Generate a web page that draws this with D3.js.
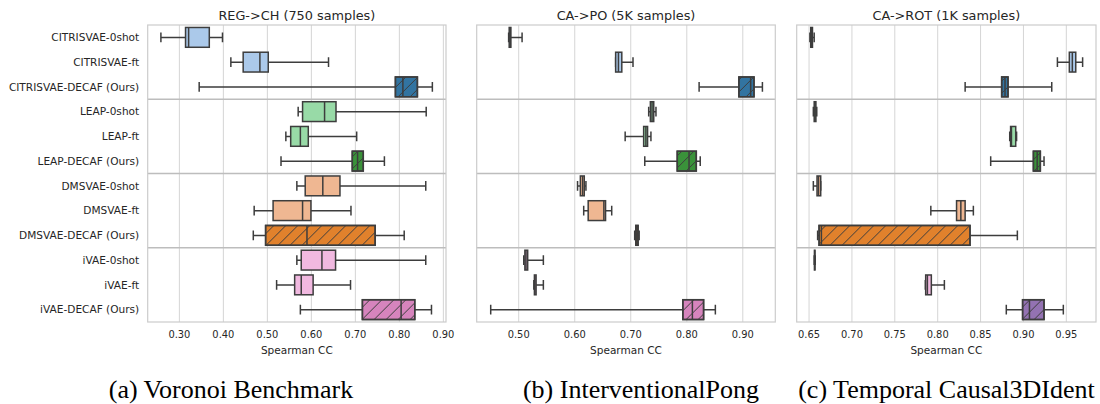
<!DOCTYPE html>
<meta charset="utf-8">
<script src="https://d3js.org/d3.v7.min.js"></script>
<style>
body { margin:0; background:#fff; }
svg { display:block; }
text { font-family:"DejaVu Sans", sans-serif; fill:#262626; }
.grid line { stroke:#d5d5d5; stroke-width:1; }
.frame { fill:none; stroke:#cccccc; stroke-width:1.2; }
.sep { stroke:#bdbdbd; stroke-width:1.5; }
.box { stroke:#3d3d3d; stroke-width:1.5; }
.whisk { stroke:#3d3d3d; stroke-width:1.5; fill:none; }
.caption { font-family:"Liberation Serif", "Times New Roman", serif; font-size:26px; fill:#000; }
</style>
<body></body>
<script>

var methods = ["CITRISVAE-0shot", "CITRISVAE-ft", "CITRISVAE-DECAF (Ours)",
  "LEAP-0shot", "LEAP-ft", "LEAP-DECAF (Ours)",
  "DMSVAE-0shot", "DMSVAE-ft", "DMSVAE-DECAF (Ours)",
  "iVAE-0shot", "iVAE-ft", "iVAE-DECAF (Ours)"];

var panelTitles = ["REG->CH (750 samples)", "CA->PO (5K samples)", "CA->ROT (1K samples)"];
var captions = ["(a) Voronoi Benchmark", "(b) InterventionalPong", "(c) Temporal Causal3DIdent"];

// [lower whisker, q1, median, q3, upper whisker]
var voronoiStats = [
  [0.258, 0.314, 0.321, 0.368, 0.398],
  [0.417, 0.445, 0.483, 0.502, 0.639],
  [0.345, 0.791, 0.808, 0.841, 0.875],
  [0.570, 0.580, 0.630, 0.656, 0.861],
  [0.542, 0.553, 0.575, 0.593, 0.703],
  [0.531, 0.693, 0.705, 0.718, 0.766],
  [0.567, 0.586, 0.626, 0.665, 0.860],
  [0.470, 0.513, 0.580, 0.599, 0.690],
  [0.468, 0.496, 0.590, 0.745, 0.811],
  [0.567, 0.577, 0.624, 0.655, 0.860],
  [0.521, 0.562, 0.577, 0.604, 0.689],
  [0.575, 0.716, 0.804, 0.835, 0.873]
];

var pongStats = [
  [0.482, 0.483, 0.485, 0.486, 0.506],
  [0.673, 0.673, 0.678, 0.684, 0.704],
  [0.822, 0.893, 0.914, 0.920, 0.935],
  [0.732, 0.735, 0.738, 0.741, 0.745],
  [0.690, 0.723, 0.727, 0.730, 0.736],
  [0.725, 0.783, 0.804, 0.817, 0.824],
  [0.605, 0.610, 0.614, 0.617, 0.620],
  [0.616, 0.624, 0.652, 0.655, 0.666],
  [0.707, 0.709, 0.711, 0.713, 0.715],
  [0.509, 0.511, 0.513, 0.516, 0.544],
  [0.527, 0.528, 0.529, 0.531, 0.544],
  [0.450, 0.793, 0.810, 0.830, 0.851]
];

var c3dStats = [
  [0.651, 0.652, 0.653, 0.654, 0.656],
  [0.9396, 0.9535, 0.957, 0.961, 0.969],
  [0.832, 0.8746, 0.8785, 0.882, 0.933],
  [0.655, 0.656, 0.657, 0.658, 0.659],
  [0.884, 0.885, 0.886, 0.891, 0.892],
  [0.8618, 0.9116, 0.916, 0.9197, 0.924],
  [0.655, 0.6593, 0.661, 0.6636, 0.6636],
  [0.792, 0.822, 0.827, 0.832, 0.8416],
  [0.660, 0.6617, 0.6644, 0.8377, 0.8929],
  [0.6560, 0.6563, 0.6566, 0.6569, 0.6572],
  [0.7856, 0.786, 0.788, 0.7926, 0.8078],
  [0.880, 0.899, 0.907, 0.924, 0.9465]
];

var voronoiTicks = [0.30, 0.40, 0.50, 0.60, 0.70, 0.80, 0.90];
var pongTicks = [0.50, 0.60, 0.70, 0.80, 0.90];
var c3dTicks = [0.65, 0.70, 0.75, 0.80, 0.85, 0.90, 0.95];

var colorsAB = ["#abc9ea", "#abc9ea", "#3274a1", "#98daa7", "#98daa7", "#3a923a",
  "#efb792", "#efb792", "#e1812c", "#f1b9e0", "#f1b9e0", "#d684bd"];
var colorsC = colorsAB.slice(0, 11).concat(["#9372b2"]);

var panels = [
  {title: panelTitles[0], stats: voronoiStats, ticks: voronoiTicks, domain: [0.228, 0.906],
   left: 147.7, right: 446, colors: colorsAB, caption: captions[0], capX: 231, labels: true},
  {title: panelTitles[1], stats: pongStats, ticks: pongTicks, domain: [0.425, 0.958],
   left: 476.7, right: 775.3, colors: colorsAB, caption: captions[1], capX: 641, labels: false},
  {title: panelTitles[2], stats: c3dStats, ticks: c3dTicks, domain: [0.6356, 0.9846],
   left: 796.7, right: 1096, colors: colorsC, caption: captions[2], capX: 946.5, labels: false}
];

var plotTop = 25, plotBottom = 322;

var svg = d3.select("body").append("svg")
  .attr("width", 1100)
  .attr("height", 404);

var defs = svg.append("defs");
var hatch = defs.append("pattern")
  .attr("id", "hatch")
  .attr("patternUnits", "userSpaceOnUse")
  .attr("width", 12)
  .attr("height", 12);
hatch.append("path")
  .attr("d", "M-3,3 L3,-3 M0,12 L12,0 M9,15 L15,9")
  .attr("stroke", "#3d3d3d")
  .attr("stroke-width", 1);

var yScale = d3.scaleBand()
  .domain(methods)
  .range([plotTop, plotBottom]);

panels.forEach(function(p) {

  var xScale = d3.scaleLinear()
    .domain(p.domain)
    .range([p.left, p.right]);

  var g = svg.append("g");

  // vertical grid
  g.append("g").attr("class", "grid")
    .selectAll("line").data(p.ticks).enter().append("line")
    .attr("x1", function(d) { return xScale(d); })
    .attr("x2", function(d) { return xScale(d); })
    .attr("y1", plotTop).attr("y2", plotBottom);

  // group separators
  g.selectAll(".sep").data([3, 6, 9]).enter().append("line")
    .attr("class", "sep")
    .attr("x1", p.left).attr("x2", p.right)
    .attr("y1", function(d) { return yScale(methods[d]); })
    .attr("y2", function(d) { return yScale(methods[d]); });

  g.append("rect").attr("class", "frame")
    .attr("x", p.left).attr("y", plotTop)
    .attr("width", p.right - p.left).attr("height", plotBottom - plotTop);

  var bw = yScale.bandwidth() * 0.8;

  var rows = g.selectAll(".row")
    .data(p.stats).enter().append("g")
    .attr("transform", function(d, i) {
      return "translate(0," + (yScale(methods[i]) + yScale.bandwidth() / 2) + ")";
    });

  // whiskers
  rows.append("path").attr("class", "whisk")
    .attr("d", function(d) {
      return "M" + xScale(d[0]) + ",0H" + xScale(d[1]) +
        "M" + xScale(d[3]) + ",0H" + xScale(d[4]) +
        "M" + xScale(d[0]) + "," + (-bw / 4) + "V" + (bw / 4) +
        "M" + xScale(d[4]) + "," + (-bw / 4) + "V" + (bw / 4);
    });

  rows.append("rect").attr("class", "box")
    .attr("x", function(d) { return xScale(d[1]); })
    .attr("y", -bw / 2)
    .attr("width", function(d) { return Math.max(0.5, xScale(d[3]) - xScale(d[1])); })
    .attr("height", bw)
    .attr("fill", function(d, i) { return p.colors[i]; });

  rows.filter(function(d, i) { return i % 3 == 2; })
    .append("rect")
    .attr("x", function(d) { return xScale(d[1]); })
    .attr("y", -bw / 2)
    .attr("width", function(d) { return Math.max(0.5, xScale(d[3]) - xScale(d[1])); })
    .attr("height", bw)
    .attr("fill", "url(#hatch)")
    .attr("stroke", "none");

  rows.filter(function(d, i) { return i % 3 == 2; })
    .append("rect").attr("class", "box")
    .attr("x", function(d) { return xScale(d[1]); })
    .attr("y", -bw / 2)
    .attr("width", function(d) { return Math.max(0.5, xScale(d[3]) - xScale(d[1])); })
    .attr("height", bw)
    .attr("fill", "none");

  rows.append("line").attr("class", "whisk")
    .attr("x1", function(d) { return xScale(d[2]); })
    .attr("x2", function(d) { return xScale(d[2]); })
    .attr("y1", -bw / 2).attr("y2", bw / 2);

  // x tick labels
  g.selectAll(".xtick").data(p.ticks).enter().append("text")
    .attr("class", "xtick")
    .attr("x", function(d) { return xScale(d); })
    .attr("y", 338)
    .attr("text-anchor", "middle")
    .style("font-size", "10px")
    .text(d3.format(".2f"));

  g.append("text").attr("class", "xlabel")
    .attr("x", (p.left + p.right) / 2)
    .attr("y", 354)
    .attr("text-anchor", "middle")
    .style("font-size", "10.5px")
    .text("Spearman CC");

  g.append("text").attr("class", "ptitle")
    .attr("x", (p.left + p.right) / 2)
    .attr("y", 19.5)
    .attr("text-anchor", "middle")
    .style("font-size", "12.6px")
    .text(p.title);

  if (p.labels) {
    g.selectAll(".ylab").data(methods).enter().append("text")
      .attr("class", "ylab")
      .attr("x", p.left - 8.5)
      .attr("y", function(d) { return yScale(d) + yScale.bandwidth() / 2 + 3.7; })
      .attr("text-anchor", "end")
      .style("font-size", "10.5px")
      .text(function(d) { return d; });
  }

  svg.append("text").attr("class", "caption")
    .attr("x", p.capX)
    .attr("y", 398)
    .attr("text-anchor", "middle")
    .text(p.caption);
});

// size each text group so a reference string has the width measured in the picture
function fitFont(cls, sample, width) {
  var sel = svg.selectAll("." + cls);
  var node = sel.filter(function(d, i) { return this.textContent == sample; }).node();
  if (!node) return;
  var fs = parseFloat(node.style.fontSize);
  var w = node.getComputedTextLength();
  if (w > 0) sel.style("font-size", (fs * width / w) + "px");
}
fitFont("ylab", "CITRISVAE-DECAF (Ours)", 130.5);
fitFont("ptitle", "REG->CH (750 samples)", 157);
fitFont("xlabel", "Spearman CC", 72);
fitFont("xtick", "0.30", 22);

</script>
